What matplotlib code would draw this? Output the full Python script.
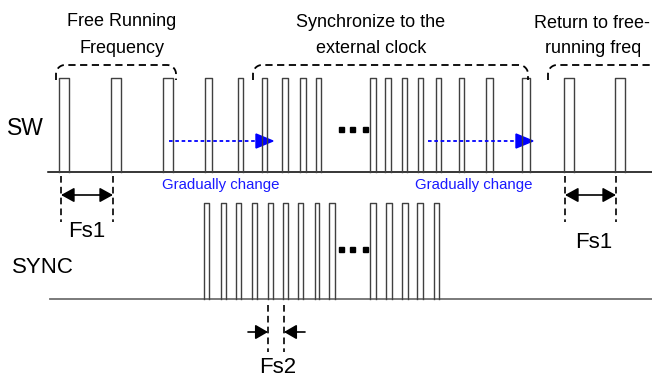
import numpy as np
import matplotlib.pyplot as plt
from matplotlib.patches import Polygon

plt.rcParams['font.family'] = ['Liberation Sans', 'DejaVu Sans']

# pulse edges (left, right), diagram units (x to the right, y downwards)
sw_left = [59, 111, 163, 205, 238, 262, 282, 300, 316, 370, 385, 402, 418, 436, 459, 486, 522, 564, 615]
sw_right = [69, 121, 173, 212, 243, 267, 288, 306, 321, 376, 391, 407, 423, 441, 464, 493, 530, 574, 625]
sync_left = [204, 221, 236, 252, 268, 283, 298, 315, 329, 370, 386, 402, 417, 434]
sync_right = [209, 226, 241, 257, 273, 288, 303, 319, 335, 376, 392, 408, 423, 439]
dots_x = [340.5, 351.5, 364.5]

sw_base, sw_top = 172, 78
sync_base, sync_top = 299, 203

fig = plt.figure(figsize=(6.52, 3.79), dpi=100)
ax = fig.add_axes([0, 0, 1, 1])
ax.set_xlim(0, 652)
ax.set_ylim(379, 0)
ax.axis('off')

# baselines
ax.plot([48, 652], [sw_base, sw_base], color='black', lw=1.1)
ax.plot([50, 652], [sync_base, sync_base], color='#707070', lw=1.3)

# pulses
for l, r in zip(sw_left, sw_right):
    ax.plot([l, l, r, r], [sw_base, sw_top, sw_top, sw_base], color='#404040', lw=1.0)
for l, r in zip(sync_left, sync_right):
    ax.plot([l, l, r, r], [sync_base, sync_top, sync_top, sync_base], color='#404040', lw=1.0)

# ellipsis dots
ax.plot(dots_x, [129] * 3, 's', color='black', ms=3.6)
ax.plot(dots_x, [248.5] * 3, 's', color='black', ms=3.6)


def brace(x0, x1, ytop=65, yend=80, r=9):
    t = np.linspace(np.pi, np.pi / 2, 20)
    lx = x0 + r + r * np.cos(t)
    ly = ytop + r - r * np.sin(t)
    t2 = np.linspace(np.pi / 2, 0, 20)
    rx = x1 - r + r * np.cos(t2)
    ry = ytop + r - r * np.sin(t2)
    xs = np.concatenate([[x0], lx, rx, [x1]])
    ys = np.concatenate([[yend], ly, ry, [yend]])
    ax.plot(xs, ys, color='black', lw=1.3, dashes=(4, 2.5))


brace(56, 176)
brace(253, 528)
brace(548, 660)

# titles
tfs = 13
ax.text(122, 26, 'Free Running', ha='center', va='baseline', fontsize=tfs)
ax.text(122, 53, 'Frequency', ha='center', va='baseline', fontsize=tfs)
ax.text(371, 27, 'Synchronize to the', ha='center', va='baseline', fontsize=tfs)
ax.text(371, 53, 'external clock', ha='center', va='baseline', fontsize=tfs)
ax.text(592, 28, 'Return to free-', ha='center', va='baseline', fontsize=tfs)
ax.text(593, 53, 'running freq', ha='center', va='baseline', fontsize=tfs)

ax.text(7, 135, 'SW', ha='left', va='baseline', fontsize=16.5)
ax.text(12, 273, 'SYNC', ha='left', va='baseline', fontsize=16)

# gradual change arrows
blue = '#0000ff'
for x0, x1, xc in [(169, 273, 221), (428, 533, 474)]:
    ax.plot([x0, x1 - 17], [141, 141], color=blue, lw=1.3, dashes=(2, 1.5))
    ax.add_patch(Polygon([[x1 - 17, 134], [x1, 141], [x1 - 17, 148]], closed=True,
                         facecolor=blue, edgecolor=blue))
    ax.text(xc, 189, 'Gradually change', ha='center', va='baseline', fontsize=10.8, color='#1a1aff')

# Fs1 markers
for xa, xb, xt, yt in [(61, 113, 87, 237), (565, 616, 594, 248)]:
    for xv in (xa, xb):
        ax.plot([xv, xv], [176, 222], color='black', lw=1.2, dashes=(4, 2.5))
    ax.annotate('', xy=(xb, 195), xytext=(xa, 195),
                arrowprops=dict(arrowstyle='<|-|>,head_length=0.4,head_width=0.22',
                                color='black', lw=1.2,
                                mutation_scale=20, shrinkA=0, shrinkB=0))
    ax.text(xt, yt, 'Fs1', ha='center', va='baseline', fontsize=16)

# Fs2 marker
for xv in (268, 284):
    ax.plot([xv, xv], [305, 352], color='black', lw=1.2, dashes=(4, 2.5))
for xs, xe in [(248, 268), (305, 284)]:
    ax.annotate('', xy=(xe, 332), xytext=(xs, 332),
                arrowprops=dict(arrowstyle='-|>,head_length=0.38,head_width=0.22',
                                color='black', lw=1.2,
                                mutation_scale=20, shrinkA=0, shrinkB=0))
ax.text(278, 373, 'Fs2', ha='center', va='baseline', fontsize=16)

fig.savefig('out.png', dpi=100)
